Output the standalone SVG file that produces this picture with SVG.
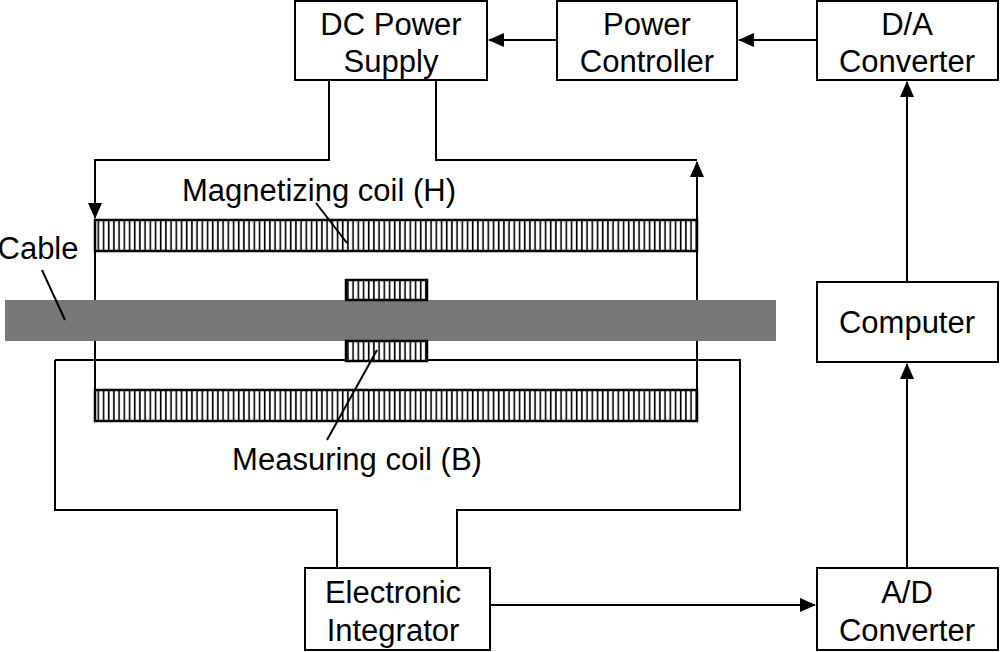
<svg xmlns="http://www.w3.org/2000/svg" width="1000" height="652" viewBox="0 0 1000 652">
<defs>
<pattern id="st" width="5.2" height="10" patternUnits="userSpaceOnUse" x="95"><rect width="5.2" height="10" fill="#fff"/><rect x="2.5" width="1.6" height="10" fill="#000"/></pattern>
<marker id="ah2" markerWidth="16" markerHeight="14" refX="15" refY="7" orient="auto" markerUnits="userSpaceOnUse"><path d="M0,0 L16,7 L0,14 z" fill="#000"/></marker>
</defs>
<style>
.b{fill:#fff;stroke:#000;stroke-width:2}
.t{font-family:"Liberation Sans",Arial,sans-serif;font-size:31px;fill:#000;text-anchor:middle}
.l{fill:none;stroke:#000;stroke-width:2}
.c{fill:url(#st);stroke:#000;stroke-width:2.5}
</style>
<rect width="1000" height="652" fill="#fff"/>
<g id="connectors">
<path class="l" d="M329,80 V160 H95 V218" marker-end="url(#ah2)"/>
<path class="l" d="M95,251 V390"/>
<path class="l" d="M436,80 V160 H697"/>
<path class="l" d="M697,390 V162" marker-end="url(#ah2)"/>
<path class="l" d="M55,360 V510 H337 V568"/>
<path class="l" d="M55,360 H740 V510 H457 V568"/>
<path class="l" d="M557,40 H489" marker-end="url(#ah2)"/>
<path class="l" d="M817,40 H739" marker-end="url(#ah2)"/>
<path class="l" d="M907,282 V82" marker-end="url(#ah2)"/>
<path class="l" d="M907,568 V364" marker-end="url(#ah2)"/>
<path class="l" d="M490,605 H815" marker-end="url(#ah2)"/>
</g>
<g id="cable"><rect x="5" y="300" width="771" height="41" fill="#787878"/></g>
<g id="coils">
<rect class="c" x="95" y="220" width="602" height="31"/>
<rect class="c" x="95" y="390" width="602" height="31"/>
<rect class="c" x="346" y="280" width="81" height="20"/>
<rect class="c" x="346" y="341" width="81" height="20"/>
</g>
<g id="labels">
<text class="t" x="319" y="201">Magnetizing coil (H)</text>
<path class="l" d="M316,203 L347,243"/>
<text class="t" x="38" y="259">Cable</text>
<path class="l" d="M42,270 L65,320"/>
<text class="t" x="357" y="470">Measuring coil (B)</text>
<path class="l" d="M377,350 L327,440"/>
</g>
<g id="dc"><rect class="b" x="295" y="1" width="192" height="79"/><text class="t" x="391" y="35">DC Power</text><text class="t" x="391" y="72">Supply</text></g>
<g id="pc"><rect class="b" x="557" y="1" width="180" height="79"/><text class="t" x="647" y="35">Power</text><text class="t" x="647" y="72">Controller</text></g>
<g id="da"><rect class="b" x="817" y="1" width="181" height="79"/><text class="t" x="907" y="35">D/A</text><text class="t" x="907" y="72">Converter</text></g>
<g id="comp"><rect class="b" x="817" y="282" width="181" height="80"/><text class="t" x="907" y="333">Computer</text></g>
<g id="ad"><rect class="b" x="817" y="568" width="181" height="82"/><text class="t" x="907" y="603">A/D</text><text class="t" x="907" y="641">Converter</text></g>
<g id="ei"><rect class="b" x="305" y="568" width="185" height="82"/><text class="t" x="393" y="603">Electronic</text><text class="t" x="393" y="641">Integrator</text></g>
</svg>
